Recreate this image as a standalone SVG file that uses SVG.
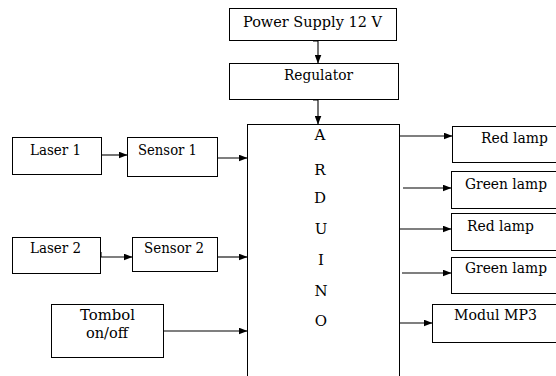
<svg xmlns="http://www.w3.org/2000/svg" width="556" height="376" viewBox="0 0 556 376">
<defs>
<marker id="ah" markerUnits="userSpaceOnUse" markerWidth="9" markerHeight="7" refX="8.5" refY="3.5" orient="auto">
<path d="M0,0 L9,3.5 L0,7 z" fill="#000"/>
</marker>
<style>
.box{fill:#fff;stroke:#000;stroke-width:1}
.c{text-anchor:middle}
.ln{fill:none;stroke:#000;stroke-width:1.1;marker-end:url(#ah)}
</style>
</defs>
<rect width="556" height="376" fill="#fff"/>
<g id="connectors">
<polyline class="ln" points="313,41 318,41 318,63"/>
<polyline class="ln" points="313,100 318,100 318,124"/>
<polyline class="ln" points="102,155 127,155"/>
<polyline class="ln" points="217,153 217,158 247,158"/>
<polyline class="ln" points="101,252 101,257 132,257"/>
<polyline class="ln" points="218,257 247,257"/>
<polyline class="ln" points="163,326 163,331 247,331"/>
<polyline class="ln" points="399,136 452,136"/>
<polyline class="ln" points="403,188 451,188"/>
<polyline class="ln" points="399,229 451,229"/>
<polyline class="ln" points="402,273 451,273"/>
<polyline class="ln" points="398,323 432,323"/>
</g>
<g font-family="'DejaVu Serif', 'Liberation Serif', serif" font-size="15" fill="#000">
<g id="power">
<rect class="box" x="229.5" y="8.5" width="167" height="32"/>
<text x="243" y="27" textLength="139" lengthAdjust="spacingAndGlyphs">Power Supply 12 V</text>
</g>
<g id="regulator">
<rect class="box" x="229.5" y="63.5" width="169" height="36"/>
<text x="284" y="80" textLength="69" lengthAdjust="spacingAndGlyphs">Regulator</text>
</g>
<g id="arduino">
<rect class="box" x="247.5" y="124.5" width="152" height="260"/>
<text class="c" x="320" y="140">A</text>
<text class="c" x="320" y="175">R</text>
<text class="c" x="320" y="203">D</text>
<text class="c" x="321" y="234">U</text>
<text class="c" x="321" y="265">I</text>
<text class="c" x="321" y="296">N</text>
<text class="c" x="321" y="326">O</text>
</g>
<g id="laser1">
<rect class="box" x="12.5" y="137.5" width="89" height="37"/>
<text x="30" y="155" textLength="51" lengthAdjust="spacingAndGlyphs">Laser 1</text>
</g>
<g id="sensor1">
<rect class="box" x="127.5" y="137.5" width="90" height="39"/>
<text x="138" y="155" textLength="59" lengthAdjust="spacingAndGlyphs">Sensor 1</text>
</g>
<g id="laser2">
<rect class="box" x="12.5" y="237.5" width="88" height="36"/>
<text x="30" y="253" textLength="51" lengthAdjust="spacingAndGlyphs">Laser 2</text>
</g>
<g id="sensor2">
<rect class="box" x="132.5" y="237.5" width="85" height="34"/>
<text x="144" y="253" textLength="60" lengthAdjust="spacingAndGlyphs">Sensor 2</text>
</g>
<g id="tombol">
<rect class="box" x="51.5" y="304.5" width="112" height="53"/>
<text x="80" y="320" textLength="55" lengthAdjust="spacingAndGlyphs">Tombol</text>
<text x="86" y="338" textLength="42" lengthAdjust="spacingAndGlyphs">on/off</text>
</g>
<g id="redlamp1">
<rect class="box" x="452.5" y="126.5" width="120" height="36"/>
<text x="481" y="143" textLength="67" lengthAdjust="spacingAndGlyphs">Red lamp</text>
</g>
<g id="greenlamp1">
<rect class="box" x="451.5" y="171.5" width="120" height="37"/>
<text x="465" y="189" textLength="82" lengthAdjust="spacingAndGlyphs">Green lamp</text>
</g>
<g id="redlamp2">
<rect class="box" x="451.5" y="213.5" width="120" height="37"/>
<text x="467" y="231" textLength="67" lengthAdjust="spacingAndGlyphs">Red lamp</text>
</g>
<g id="greenlamp2">
<rect class="box" x="451.5" y="257.5" width="120" height="36"/>
<text x="465" y="273" textLength="82" lengthAdjust="spacingAndGlyphs">Green lamp</text>
</g>
<g id="mp3">
<rect class="box" x="432.5" y="304.5" width="140" height="38"/>
<text x="454" y="320" textLength="83" lengthAdjust="spacingAndGlyphs">Modul MP3</text>
</g>
</g>
</svg>
